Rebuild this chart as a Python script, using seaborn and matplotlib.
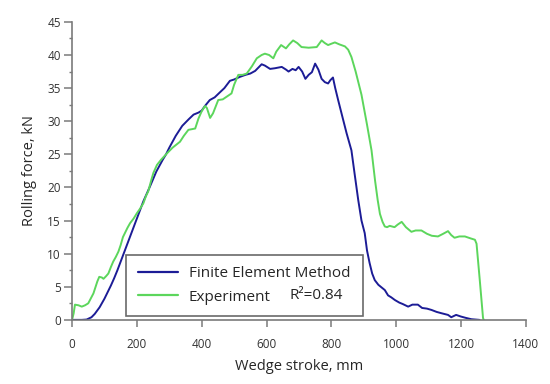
import matplotlib
matplotlib.use("Agg")
import matplotlib.pyplot as plt
from matplotlib.ticker import MultipleLocator
import seaborn as sns

# ---------------------------------------------------------------------------
# Data
# ---------------------------------------------------------------------------
fem_x = [0, 30, 45, 60, 70, 85, 100, 110, 120, 130, 140, 150, 160, 170, 180,
         190, 200, 210, 220, 230, 240, 260, 280, 290, 300, 320, 340, 360, 375,
         390, 400, 410, 425, 440, 457, 470, 487, 500, 518, 535, 550, 565, 585,
         595, 611, 626, 647, 660, 668, 680, 690, 699, 710, 720, 730, 740, 750,
         760, 770, 780, 790, 797, 805, 812, 821, 835, 847, 862, 872, 883, 893,
         903, 910, 918, 926, 934, 945, 955, 965, 975, 985, 996, 1010, 1020,
         1037, 1050, 1067, 1080, 1095, 1109, 1125, 1140, 1160, 1170, 1185,
         1200, 1215, 1232, 1257]
fem_y = [0, 0, 0.05, 0.4, 0.9, 1.9, 3.2, 4.2, 5.2, 6.3, 7.5, 8.8, 10.1, 11.4,
         12.7, 14.0, 15.3, 16.6, 17.9, 19.0, 20.1, 22.4, 24.2, 25.0, 26.0,
         27.8, 29.3, 30.3, 31.0, 31.3, 31.6, 32.3, 33.2, 33.6, 34.4, 35.0,
         36.1, 36.3, 36.7, 37.0, 37.2, 37.6, 38.6, 38.4, 37.9, 38.0, 38.2,
         37.8, 37.5, 37.9, 37.7, 38.2, 37.5, 36.4, 37.0, 37.4, 38.7, 37.8,
         36.4, 35.9, 35.7, 36.2, 36.6, 35.0, 33.2, 30.5, 28.2, 25.6, 22.0,
         18.1, 15.0, 13.1, 10.5, 8.6, 7.0, 6.0, 5.3, 4.9, 4.5, 3.7, 3.4, 3.0,
         2.6, 2.4, 2.0, 2.3, 2.3, 1.8, 1.7, 1.5, 1.2, 1.0, 0.75, 0.4, 0.75,
         0.5, 0.3, 0.1, 0.0]

exp_x = [0, 5, 9, 20, 30, 40, 50, 66, 78, 84, 92, 97, 105, 112, 120, 127, 135,
         143, 150, 157, 163, 171, 179, 190, 200, 210, 220, 228, 235, 245, 251,
         262, 275, 292, 310, 333, 345, 359, 370, 380, 390, 400, 410, 416, 426,
         435, 451, 465, 477, 492, 500, 513, 526, 539, 555, 570, 585, 595, 608,
         621, 630, 645, 660, 670, 682, 695, 708, 730, 755, 770, 780, 790, 800,
         811, 825, 842, 852, 862, 875, 893, 910, 924, 935, 943, 950, 958, 965,
         972, 980, 995, 1005, 1017, 1030, 1047, 1060, 1078, 1095, 1110, 1129,
         1145, 1160, 1170, 1180, 1195, 1212, 1230, 1243, 1248, 1258, 1268,
         1270]
exp_y = [0, 1.0, 2.3, 2.2, 2.0, 2.2, 2.5, 4.0, 5.8, 6.5, 6.4, 6.2, 6.6, 7.0,
         8.0, 8.8, 9.5, 10.3, 11.3, 12.5, 13.1, 13.9, 14.6, 15.3, 16.1, 16.8,
         17.6, 18.7, 19.4, 21.2, 22.2, 23.4, 24.2, 25.1, 26.0, 26.9, 27.8,
         28.7, 28.8, 28.9, 30.4, 31.5, 32.3, 32.0, 30.5, 31.2, 33.2, 33.3,
         33.7, 34.2, 35.5, 37.0, 37.0, 37.2, 38.3, 39.5, 40.0, 40.2, 40.0,
         39.5, 40.5, 41.5, 41.0, 41.6, 42.2, 41.8, 41.2, 41.1, 41.2, 42.2,
         41.8, 41.5, 41.7, 41.9, 41.6, 41.3, 40.8, 39.7, 37.5, 34.0, 29.5,
         25.6, 21.0, 18.1, 16.0, 14.8, 14.1, 14.0, 14.2, 14.0, 14.4, 14.8,
         14.0, 13.3, 13.5, 13.5, 13.0, 12.7, 12.6, 13.0, 13.4, 12.8, 12.4,
         12.6, 12.6, 12.3, 12.1, 11.5, 6.0, 0.3, 0]

r2_text = "R²=0.84"

BLUE = "#1c1c96"
GREEN = "#5cd65c"
GREY = "#7a7a7a"

# ---------------------------------------------------------------------------
# Plot
# ---------------------------------------------------------------------------
sns.set_style("ticks")
plt.rcParams["font.family"] = ["Open Sans", "DejaVu Sans"]

fig, ax = plt.subplots(figsize=(5.5, 3.84), dpi=100)
fig.subplots_adjust(left=0.131, right=0.956, top=0.943, bottom=0.167)

sns.lineplot(x=fem_x, y=fem_y, ax=ax, color=BLUE, lw=1.4, sort=False,
             estimator=None, label="Finite Element Method")
sns.lineplot(x=exp_x, y=exp_y, ax=ax, color=GREEN, lw=1.4, sort=False,
             estimator=None, label="Experiment")

ax.set_xlim(0, 1400)
ax.set_ylim(0, 45)
ax.xaxis.set_major_locator(MultipleLocator(200))
ax.yaxis.set_major_locator(MultipleLocator(5))
ax.yaxis.set_minor_locator(MultipleLocator(2.5))

sns.despine(ax=ax)
for side in ["left", "bottom"]:
    ax.spines[side].set_color(GREY)
    ax.spines[side].set_linewidth(1.2)
ax.tick_params(axis="both", which="major", direction="out", length=5,
               width=1.1, color=GREY, labelsize=8.5, labelcolor="#333333")
ax.tick_params(axis="x", pad=8)
ax.tick_params(axis="y", which="major", length=6, pad=2)
ax.tick_params(axis="y", which="minor", length=2.5, width=1.0, color=GREY)

ax.set_xlabel("Wedge stroke, mm", fontsize=10.5, color="#262626", labelpad=6)
ax.set_ylabel("Rolling force, kN", fontsize=10.5, color="#262626")
ax.yaxis.set_label_coords(-0.077, 0.5)

leg = ax.legend(loc="lower left", bbox_to_anchor=(0.119, 0.013, 0.522, 0.229),
                mode="expand", borderaxespad=0, fontsize=11, frameon=True,
                fancybox=False, handlelength=2.65, handletextpad=0.7,
                labelspacing=0.55, borderpad=0.75)
leg.get_frame().set_edgecolor("#6a6a6a")
leg.get_frame().set_linewidth(1.2)
leg.get_frame().set_alpha(1)
for line in leg.get_lines():
    line.set_linewidth(1.6)

ax.text(0.48, 0.0805, r2_text, transform=ax.transAxes, fontsize=11,
        va="center", ha="left", color="#262626", zorder=10)

fig.savefig("out.png", dpi=100)
